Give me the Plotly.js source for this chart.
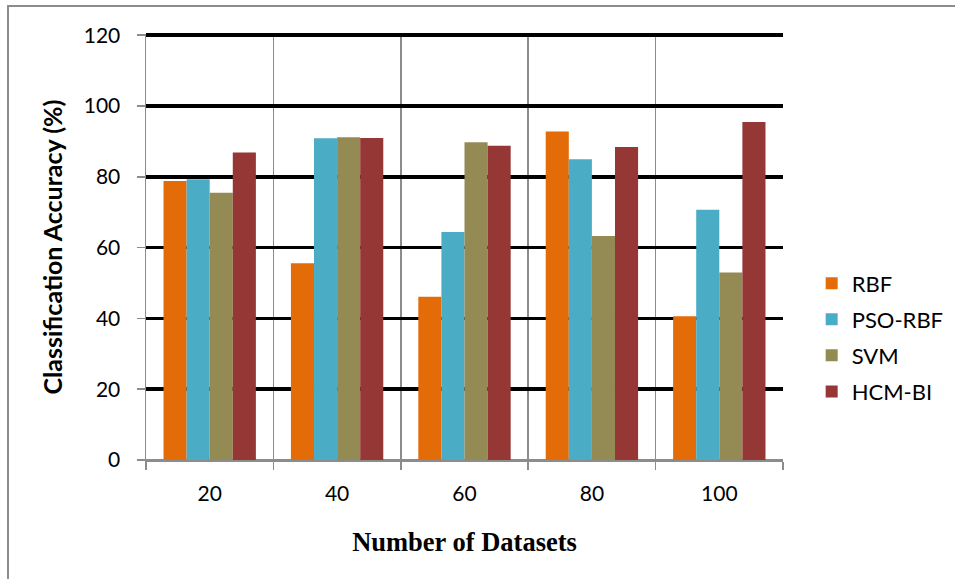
<!DOCTYPE html>
<html>
<head>
<meta charset="utf-8">
<script src="https://cdn.plot.ly/plotly-3.0.1.min.js"></script>
<style>
  html, body { margin: 0; padding: 0; background: #fff; }
  #wrap { position: relative; width: 955px; height: 579px; }
  #chart { position: absolute; left: 0; top: 0; width: 955px; height: 579px; }
  #frame { position: absolute; left: 7px; top: 5px; width: 960px; height: 600px;
           border-left: 2px solid #8c8c8c; border-top: 2px solid #8c8c8c; pointer-events: none; }
</style>
</head>
<body>
<div id="wrap">
  <div id="chart"></div>
  <div id="frame"></div>
</div>
<script>
const categories = ["20", "40", "60", "80", "100"];
const seriesNames = ["RBF", "PSO-RBF", "SVM", "HCM-BI"];
const rbf    = [78.8, 55.6, 46.1, 92.8, 40.6];
const psoRbf = [79.3, 90.9, 64.4, 85.0, 70.7];
const svm    = [75.5, 91.2, 89.8, 63.3, 53.0];
const hcmBi  = [86.9, 91.0, 88.8, 88.4, 95.5];
const colors = ["#E36C09", "#4BACC6", "#948A54", "#953735"];

const values = [rbf, psoRbf, svm, hcmBi];
const traces = values.map((v, i) => ({
  type: "bar",
  name: seriesNames[i],
  x: categories,
  y: v,
  legendgroup: "g" + i,
  marker: { color: colors[i], line: { width: 0 } },
  hoverinfo: "x+y+name"
}));

const sans = "Lato, 'Open Sans', sans-serif";

const layout = {
  width: 955,
  height: 579,
  margin: { l: 146, r: 172, t: 34, b: 119, autoexpand: false },
  paper_bgcolor: "#ffffff",
  plot_bgcolor: "#ffffff",
  barmode: "group",
  bargap: 0.275,
  bargroupgap: 0,
  showlegend: true,
  legend: {
    x: 1.045, y: 0.464, xanchor: "left", yanchor: "top",
    font: { family: sans, size: 22, color: "#000" },
    tracegroupgap: 4.5,
    bgcolor: "rgba(0,0,0,0)"
  },
  xaxis: {
    type: "category",
    tickson: "boundaries",
    showgrid: true,
    gridcolor: "#8c8c8c",
    gridwidth: 1.5,
    ticks: "outside",
    ticklen: 8,
    tickcolor: "#8c8c8c",
    tickwidth: 1.5,
    ticklabelstandoff: 14,
    showline: true,
    linecolor: "#8c8c8c",
    linewidth: 1.5,
    tickfont: { family: sans, size: 21, color: "#000" },
    title: {
      text: "Number of Datasets",
      font: { family: "'Liberation Serif', 'Times New Roman', serif", size: 26.5, color: "#000", weight: "bold" },
      standoff: 28
    }
  },
  yaxis: {
    range: [0, 120.35],
    tickvals: [0, 20, 40, 60, 80, 100, 120],
    showgrid: true,
    gridcolor: "#000000",
    gridwidth: 3.5,
    zeroline: true,
    zerolinecolor: "#8c8c8c",
    zerolinewidth: 1.5,
    ticks: "outside",
    ticklen: 8,
    tickcolor: "#8c8c8c",
    tickwidth: 1.5,
    ticklabelstandoff: 12,
    showline: true,
    linecolor: "#8c8c8c",
    linewidth: 1.5,
    tickfont: { family: sans, size: 21, color: "#000" },
    title: {
      text: "Classification Accuracy (%)",
      font: { family: sans, size: 25, color: "#000", weight: "bold" },
      standoff: 14
    }
  }
};

Plotly.newPlot("chart", traces, layout, { displayModeBar: false, staticPlot: true });
</script>
</body>
</html>
